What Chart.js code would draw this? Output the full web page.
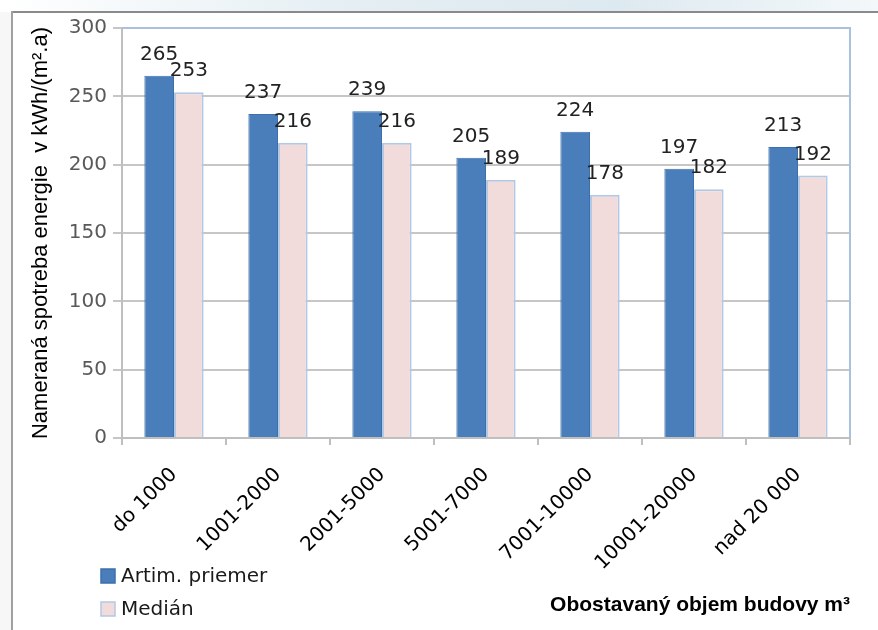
<!DOCTYPE html>
<html>
<head>
<meta charset="utf-8">
<script src="https://cdn.jsdelivr.net/npm/chart.js@4"></script>
<style>
  html, body { margin: 0; padding: 0; background: #ffffff; overflow: hidden; }
  #c { display: block; }
</style>
</head>
<body>
<canvas id="c" width="878" height="630"></canvas>
<script>
const categories = ['do 1000', '1001-2000', '2001-5000', '5001-7000', '7001-10000', '10001-20000', 'nad 20 000'];
const seriesNames = ['Artim. priemer', 'Medián'];
const meanValues = [265, 237, 239, 205, 224, 197, 213];
const medianValues = [253, 216, 216, 189, 178, 182, 192];
const yTicks = [0, 50, 100, 150, 200, 250, 300];
const yTitle = 'Nameraná spotreba energie  v kWh/(m².a)';
const xTitle = 'Obostavaný objem budovy m³';

const pageBackground = {
  id: 'pageBackground',
  beforeDraw(chart) {
    const {ctx, width, height} = chart;
    ctx.save();
    ctx.fillStyle = '#ffffff';
    ctx.fillRect(0, 0, width, height);
    const g = ctx.createLinearGradient(0, 0, width, 0);
    g.addColorStop(0, '#ffffff');
    g.addColorStop(0.4, '#e4eef3');
    g.addColorStop(0.7, '#dde9f0');
    g.addColorStop(1, '#f3f8fa');
    ctx.fillStyle = g;
    ctx.fillRect(0, 0, width, 12);
    ctx.fillStyle = '#f7f7f7';
    ctx.fillRect(0, 12, 12, height - 12);
    ctx.fillStyle = '#8a8a8a';
    ctx.fillRect(12, 11, width - 12, 2);
    ctx.fillStyle = '#a0a0a0';
    ctx.fillRect(11, 11, 2, height - 11);
    ctx.restore();
  }
};

const plotBorder = {
  id: 'plotBorder',
  beforeDatasetsDraw(chart) {
    const {ctx, chartArea: a} = chart;
    ctx.save();
    ctx.strokeStyle = '#a9c0df';
    ctx.lineWidth = 2;
    ctx.beginPath();
    ctx.moveTo(a.left, a.top);
    ctx.lineTo(a.right, a.top);
    ctx.lineTo(a.right, a.bottom);
    ctx.stroke();
    ctx.restore();
  }
};

const valueLabels = {
  id: 'valueLabels',
  afterDatasetsDraw(chart) {
    const {ctx} = chart;
    ctx.save();
    ctx.font = '20px "DejaVu Sans"';
    ctx.fillStyle = '#222222';
    ctx.textAlign = 'center';
    ctx.textBaseline = 'alphabetic';
    chart.data.datasets.forEach((ds, i) => {
      const meta = chart.getDatasetMeta(i);
      meta.data.forEach((bar, j) => {
        ctx.fillText(String(ds.data[j]), bar.x, bar.y - 16);
      });
    });
    ctx.restore();
  }
};

const customLegend = {
  id: 'customLegend',
  afterDraw(chart) {
    const {ctx} = chart;
    ctx.save();
    ctx.font = '20px "DejaVu Sans"';
    ctx.textBaseline = 'middle';
    ctx.textAlign = 'left';
    const rows = [576, 609];
    chart.data.datasets.forEach((ds, i) => {
      const y = rows[i];
      ctx.fillStyle = ds.backgroundColor;
      ctx.fillRect(101, y - 7, 14, 14);
      ctx.strokeStyle = ds.borderColor;
      ctx.lineWidth = 1.5;
      ctx.strokeRect(101, y - 7, 14, 14);
      ctx.fillStyle = '#1a1a1a';
      ctx.fillText(ds.label, 121, y + 1);
    });
    ctx.restore();
  }
};

new Chart(document.getElementById('c'), {
  type: 'bar',
  data: {
    labels: categories,
    datasets: [
      { label: seriesNames[0], data: meanValues, backgroundColor: '#4a7ebb', borderColor: '#3d6fae', borderWidth: 1,
        categoryPercentage: 0.57, barPercentage: 1.0 },
      { label: seriesNames[1], data: medianValues, backgroundColor: '#f2dcdb', borderColor: '#b3c8e4', borderWidth: 2,
        categoryPercentage: 0.57, barPercentage: 1.0 }
    ]
  },
  options: {
    responsive: false,
    animation: false,
    devicePixelRatio: 1,
    layout: { padding: { left: 28, top: 28, right: 28, bottom: 10 } },
    plugins: {
      legend: { display: false },
      tooltip: { enabled: false }
    },
    scales: {
      x: {
        grid: { offset: true, drawOnChartArea: false, drawTicks: true, tickLength: 7, color: '#bfbfbf', lineWidth: 2 },
        border: { color: '#bfbfbf', width: 2 },
        ticks: { color: '#000000', font: { family: '"DejaVu Sans"', size: 20 }, minRotation: 45, maxRotation: 45, padding: 18, autoSkip: false },
        title: { display: true, text: xTitle, align: 'end', color: '#000000',
          font: { family: '"Liberation Sans"', size: 21, weight: 'bold' }, padding: { top: 0, bottom: 2 } },
        afterFit(s) { s.height = 182; }
      },
      y: {
        min: 0, max: 300,
        afterBuildTicks(s) { s.ticks = yTicks.map(v => ({ value: v })); },
        grid: { color: '#c6c6c6', lineWidth: 2, tickLength: 9, drawTicks: true },
        border: { color: '#bfbfbf', width: 2 },
        ticks: { color: '#595959', font: { family: '"DejaVu Sans"', size: 20 }, padding: 6 },
        title: { display: true, text: yTitle, color: '#000000',
          font: { family: '"Liberation Sans"', size: 22 }, padding: { top: 0, bottom: 0 } },
        afterFit(s) { s.width = 94; }
      }
    }
  },
  plugins: [pageBackground, plotBorder, valueLabels, customLegend]
});
</script>
</body>
</html>
